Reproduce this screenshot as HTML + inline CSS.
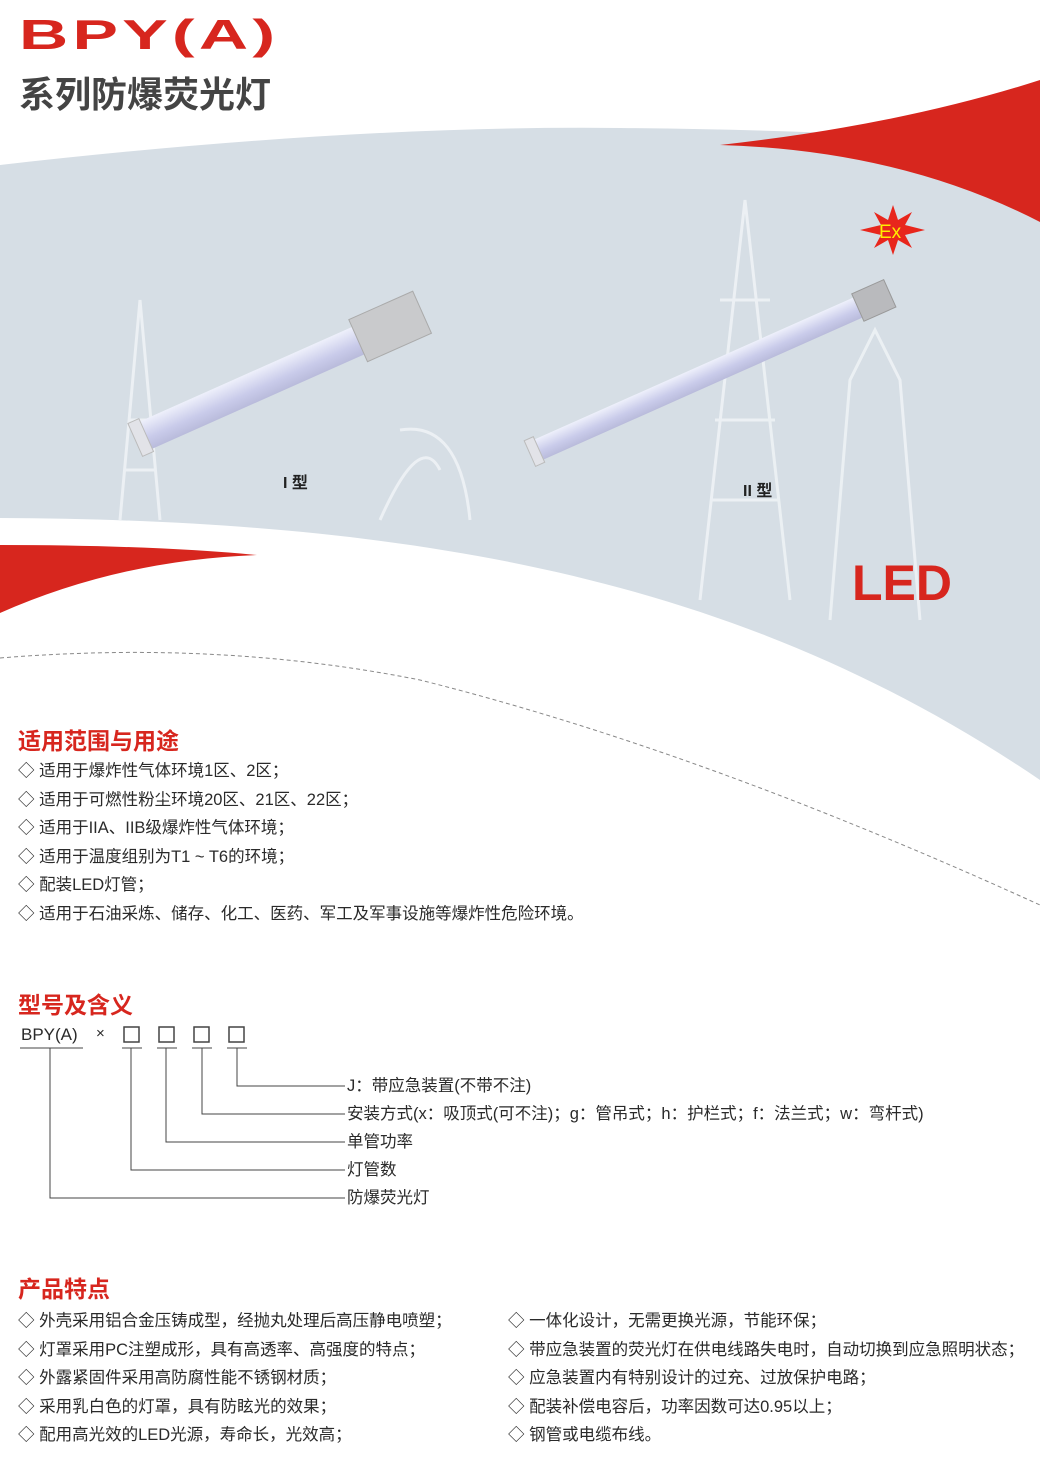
<!DOCTYPE html>
<html><head><meta charset="utf-8"><style>
body{margin:0;width:1040px;height:1474px;position:relative;overflow:hidden;background:#fff;font-family:"Liberation Sans","Noto Sans CJK SC",sans-serif;color:#2a2a2a}
.a{position:absolute;white-space:nowrap}
.h{color:#d7261e;font-size:23px;font-weight:bold}
.l{font-size:16.5px;line-height:28.6px}
</style></head><body>
<svg class="a" style="left:0;top:0" width="1040" height="1474">
<defs>
<linearGradient id="tube" x1="0" y1="0" x2="0" y2="1"><stop offset="0" stop-color="#eef0fb"/><stop offset="0.6" stop-color="#c9cbea"/><stop offset="1" stop-color="#b9bbdb"/></linearGradient>
</defs>
<path d="M0,165 Q350,125 620,128 Q850,130 1040,145 L1040,780 C760,590 450,520 0,518 Z" fill="#d6dee5"/>
<path d="M720,145 Q900,125 1040,80 L1040,222 Q900,150 720,145 Z" fill="#d7261e"/>
<path d="M0,545 Q150,545 257,555 Q120,560 0,613 Z" fill="#d7261e"/>
<path d="M0,658 Q220,640 420,680 Q700,750 1040,905" fill="none" stroke="#888" stroke-width="1" stroke-dasharray="4,3"/>
<g fill="none" stroke="#eef2f5" stroke-width="3" opacity="0.9">
<path d="M120,520 L140,300 L160,520 M130,420 L150,420 M125,470 L155,470"/>
<path d="M700,600 L745,200 L790,600 M715,420 L775,420 M710,500 L780,500 M720,300 L770,300"/>
<path d="M830,620 L850,380 L875,330 L900,380 L920,620"/>
<path d="M380,520 Q420,430 440,470 M400,430 Q460,420 470,520"/>
</g>
<g transform="translate(145,452) rotate(-24)">
<rect x="0" y="-30" width="300" height="30" fill="url(#tube)"/>
<rect x="-4" y="-33" width="12" height="36" fill="#e2e3e8" stroke="#bbb"/>
<rect x="240" y="-38" width="70" height="46" fill="#c9cacc" stroke="#aaa"/>
</g>
<g transform="translate(538,462) rotate(-24)">
<rect x="0" y="-22" width="380" height="22" fill="url(#tube)"/>
<rect x="-4" y="-25" width="10" height="28" fill="#e2e3e8" stroke="#bbb"/>
<rect x="355" y="-26" width="35" height="30" fill="#b9babd" stroke="#999"/>
</g>
<polygon points="893,205 898,220 912,212 905,225 925,230 905,235 912,248 898,240 893,255 888,240 874,248 881,235 860,230 881,225 874,212 888,220" fill="#e8261c"/>
<text x="879" y="238" font-family="Liberation Sans" font-size="19" fill="#ffee00">Ex</text>
<g stroke="#444" stroke-width="1" fill="none">
<path d="M20,1048 H83 M122,1048 H142 M157,1048 H177 M192,1048 H212 M227,1048 H247"/>
<path d="M50,1048 V1198 H345 M131,1048 V1170 H345 M166,1048 V1142 H345 M202,1048 V1114 H345 M237,1048 V1086 H345"/>
<rect x="124" y="1027" width="15" height="15" stroke-width="1.5"/>
<rect x="159" y="1027" width="15" height="15" stroke-width="1.5"/>
<rect x="194" y="1027" width="15" height="15" stroke-width="1.5"/>
<rect x="229" y="1027" width="15" height="15" stroke-width="1.5"/>
</g>
</svg>
<div class="a" style="left:19px;top:12px;font-size:48px;font-weight:bold;color:#d7261e;letter-spacing:3px;transform:scale(1.42,0.86);transform-origin:0 0">BPY(A)</div>
<div class="a" style="left:19px;top:66px;font-size:36px;color:#444;font-weight:bold;letter-spacing:0px">系列防爆荧光灯</div>
<div class="a" style="left:283px;top:469px;font-size:16px;font-weight:bold;color:#222">I 型</div>
<div class="a" style="left:743px;top:477px;font-size:16px;font-weight:bold;color:#222">II 型</div>
<div class="a" style="left:852px;top:554px;font-size:50px;font-weight:bold;color:#d7261e">LED</div>
<div class="a h" style="left:18px;top:722px">适用范围与用途</div>
<div class="a l" style="left:18px;top:757px">◇ 适用于爆炸性气体环境1区、2区；<br>◇ 适用于可燃性粉尘环境20区、21区、22区；<br>◇ 适用于IIA、IIB级爆炸性气体环境；<br>◇ 适用于温度组别为T1 ~ T6的环境；<br>◇ 配装LED灯管；<br>◇ 适用于石油采炼、储存、化工、医药、军工及军事设施等爆炸性危险环境。</div>
<div class="a h" style="left:18px;top:986px">型号及含义</div>
<div class="a" style="left:21px;top:1025px;font-size:17px">BPY(A)</div>
<div class="a" style="left:96px;top:1025px;font-size:15px">×</div>
<div class="a l" style="left:347px;top:1072px;line-height:28px">J：带应急装置(不带不注)<br>安装方式(x：吸顶式(可不注)；g：管吊式；h：护栏式；f：法兰式；w：弯杆式)<br>单管功率<br>灯管数<br>防爆荧光灯</div>
<div class="a h" style="left:18px;top:1270px">产品特点</div>
<div class="a l" style="left:18px;top:1307px">◇ 外壳采用铝合金压铸成型，经抛丸处理后高压静电喷塑；<br>◇ 灯罩采用PC注塑成形，具有高透率、高强度的特点；<br>◇ 外露紧固件采用高防腐性能不锈钢材质；<br>◇ 采用乳白色的灯罩，具有防眩光的效果；<br>◇ 配用高光效的LED光源，寿命长，光效高；</div>
<div class="a l" style="left:508px;top:1307px">◇ 一体化设计，无需更换光源，节能环保；<br>◇ 带应急装置的荧光灯在供电线路失电时，自动切换到应急照明状态；<br>◇ 应急装置内有特别设计的过充、过放保护电路；<br>◇ 配装补偿电容后，功率因数可达0.95以上；<br>◇ 钢管或电缆布线。</div>
</body></html>
